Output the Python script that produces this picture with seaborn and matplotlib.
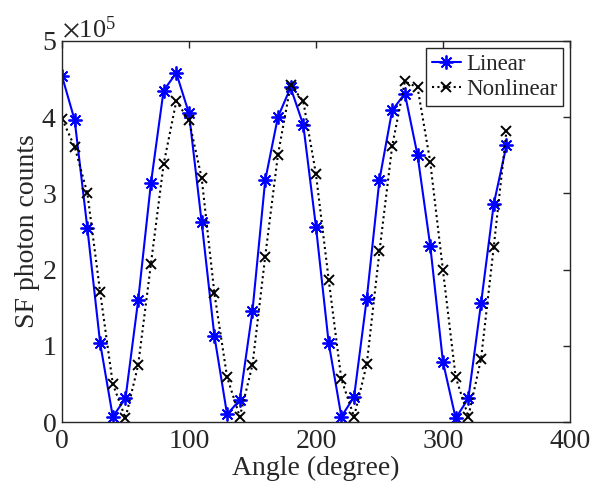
import numpy as np
import pandas as pd
import seaborn as sns
import matplotlib
matplotlib.use("Agg")
import matplotlib.pyplot as plt
from matplotlib.ticker import ScalarFormatter

angles = list(range(0, 360, 10))
linear = [4.54, 3.96, 2.54, 1.04, 0.07, 0.31, 1.60, 3.13, 4.35, 4.58,
          4.05, 2.62, 1.13, 0.10, 0.29, 1.46, 3.17, 4.00, 4.39, 3.90,
          2.56, 1.04, 0.07, 0.33, 1.62, 3.18, 4.09, 4.31, 3.50, 2.31,
          0.79, 0.05, 0.31, 1.56, 2.86, 3.63]
nonlinear = [3.98, 3.61, 3.00, 1.71, 0.50, 0.05, 0.75, 2.07, 3.38, 4.21,
             3.96, 3.20, 1.69, 0.59, 0.07, 0.75, 2.17, 3.50, 4.42, 4.21,
             3.25, 1.87, 0.56, 0.07, 0.76, 2.24, 3.62, 4.47, 4.39, 3.41,
             1.99, 0.59, 0.07, 0.83, 2.30, 3.82]
series_names = ["Linear", "Nonlinear"]

df_lin = pd.DataFrame({"angle": angles, "counts": [v * 1e5 for v in linear]})
df_non = pd.DataFrame({"angle": angles, "counts": [v * 1e5 for v in nonlinear]})

sns.set_style("white")
plt.rcParams["font.family"] = ["Liberation Serif", "DejaVu Serif"]
plt.rcParams["mathtext.fontset"] = "stix"
plt.rcParams["xtick.direction"] = "in"
plt.rcParams["ytick.direction"] = "in"

fig = plt.figure(figsize=(5.99, 4.91), dpi=100)
ax = fig.add_axes([0.1035, 0.1405, 0.848, 0.776])

sns.lineplot(data=df_lin, x="angle", y="counts", ax=ax, color="#0000ff",
             linewidth=1.5, linestyle="-", marker=(8, 2, 0), markersize=10,
             markeredgewidth=1.3, markeredgecolor="#0000ff",
             label=series_names[0])
sns.lineplot(data=df_non, x="angle", y="counts", ax=ax, color="black",
             linewidth=1.5, linestyle=(0, (1, 1.6)), marker="x", markersize=7,
             markeredgewidth=1.4, markeredgecolor="black",
             label=series_names[1])

ax.set_xlim(0, 400)
ax.set_ylim(0, 5e5)
ax.set_xticks([0, 100, 200, 300, 400])
ax.set_yticks([0, 1e5, 2e5, 3e5, 4e5, 5e5])
fmt = ScalarFormatter(useMathText=True)
fmt.set_powerlimits((0, 0))
ax.yaxis.set_major_formatter(fmt)
ax.yaxis.get_offset_text().set_fontsize(19)
ax.yaxis.get_offset_text().set_color("#262626")

ax.tick_params(axis="both", which="both", direction="in", length=5, width=1,
               labelsize=20, colors="#262626", top=True, right=True)
ax.tick_params(axis="x", pad=5)
ax.tick_params(axis="y", pad=4)
for s in ax.spines.values():
    s.set_visible(True)
    s.set_color("#262626")
    s.set_linewidth(1.0)

ax.set_xlabel("Angle (degree)", fontsize=20, color="#262626", labelpad=1)
ax.set_ylabel("SF photon counts", fontsize=20, color="#262626", labelpad=1)

leg = ax.legend(loc="upper right", fontsize=16.5, frameon=True, fancybox=False,
                edgecolor="#262626", framealpha=1, borderaxespad=0.3,
                handlelength=1.3, handletextpad=0.2, borderpad=0.25,
                labelspacing=0.2)
leg.get_frame().set_linewidth(1.0)

fig.savefig("out.png", dpi=100)
